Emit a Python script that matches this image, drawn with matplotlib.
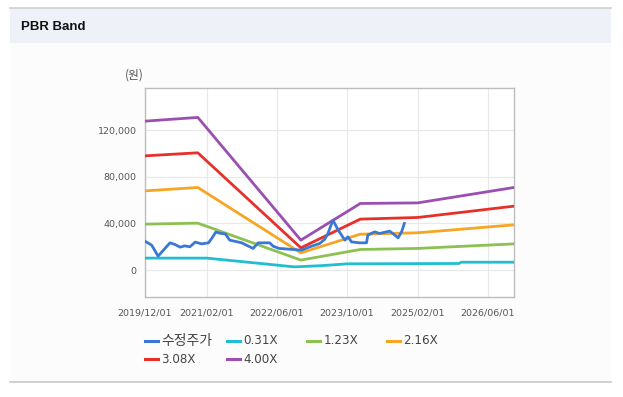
import matplotlib
matplotlib.use("Agg")
import matplotlib.pyplot as plt
from matplotlib.patches import Rectangle
from matplotlib.lines import Line2D
import pandas as pd

# ---------------- data ----------------
price_dates = ["2019-12-01", "2020-01-16", "2020-03-01", "2020-05-22", "2020-06-25",
               "2020-08-01", "2020-09-01", "2020-10-07", "2020-11-13", "2020-12-28",
               "2021-02-13", "2021-03-07", "2021-04-04", "2021-05-13", "2021-06-10",
               "2021-07-10", "2021-10-01", "2021-12-19", "2022-01-24", "2022-04-13",
               "2022-05-07", "2022-06-16", "2022-09-22", "2022-11-19", "2023-01-16",
               "2023-03-25", "2023-04-28", "2023-05-22", "2023-06-25", "2023-08-01",
               "2023-09-16", "2023-10-07", "2023-11-01", "2023-12-28", "2024-02-13",
               "2024-02-22", "2024-04-10", "2024-05-13", "2024-07-22", "2024-08-13",
               "2024-09-19", "2024-10-13", "2024-11-01"]
price_values = [24800, 21400, 12000, 23400, 22000,
                19700, 20800, 20000, 24000, 22500,
                23400, 27100, 32500, 31400, 31000,
                25700, 23400, 18600, 23400, 23400,
                20500, 18600, 17700, 17100, 20000,
                22800, 26300, 31400, 42800, 34300,
                25700, 28500, 24200, 23400, 23400,
                30000, 32800, 31400, 33400, 31400,
                27700, 32800, 40000]

band_dates = ["2019-12-01", "2020-12-01", "2022-11-15", "2024-01-01", "2025-02-01", "2026-12-01"]
band_031_dates = ["2019-12-01", "2021-02-01", "2022-10-01", "2023-04-01", "2023-10-01",
                  "2025-11-15", "2025-12-01", "2026-12-01"]
band_031 = [10300, 10300, 2800, 3800, 5400, 5700, 6800, 6800]
band_123 = [39400, 40250, 8600, 17700, 18600, 22500]
band_216 = [67900, 70800, 14800, 30800, 32000, 38800]
band_308 = [97900, 100500, 19100, 43700, 45100, 54800]
band_400 = [127600, 130800, 25700, 57100, 57600, 70800]

series_labels = ["수정주가", "0.31X", "1.23X", "2.16X", "3.08X", "4.00X"]
colors = ["#3a78d6", "#1fbfd0", "#8cc152", "#f6a623", "#e8302a", "#9b4fb0"]

y_ticks = [0, 40000, 80000, 120000]
x_ticks = ["2019-12-01", "2021-02-01", "2022-06-01", "2023-10-01", "2025-02-01", "2026-06-01"]

# ---------------- figure ----------------
W, H = 623, 397
fig = plt.figure(figsize=(W / 100, H / 100), dpi=100)
fig.patch.set_facecolor("white")

# panel background & header
fig.patches.append(Rectangle((10 / W, (H - 382) / H), 601 / W, 339 / H,
                             transform=fig.transFigure, facecolor="#fcfcfd",
                             edgecolor="none", zorder=-5))
fig.patches.append(Rectangle((10 / W, (H - 43) / H), 601 / W, 35 / H,
                             transform=fig.transFigure, facecolor="#eef2f8",
                             edgecolor="none", zorder=-4))
fig.lines.append(Line2D([10 / W, 611 / W], [(H - 8) / H] * 2, transform=fig.transFigure,
                        color="#cfcfcf", lw=1.2, zorder=-3))
fig.lines.append(Line2D([10 / W, 611 / W], [(H - 382) / H] * 2, transform=fig.transFigure,
                        color="#c8c8c8", lw=1.2, zorder=-3))
fig.text(21 / W, 1 - 27 / H, "PBR Band", fontsize=9.5, fontweight="bold",
         family=["Liberation Sans", "DejaVu Sans"], va="center", ha="left", color="#111111")

# axes: left 145, right 514, top 88, bottom 297
ax = fig.add_axes([145 / W, 1 - 297 / H, (514 - 145) / W, (297 - 88) / H])
ax.set_facecolor("white")
ax.set_zorder(2)

pd_price = pd.to_datetime(price_dates)
pd_band = pd.to_datetime(band_dates)
pd_b031 = pd.to_datetime(band_031_dates)

lw = 2.0
ax.plot(pd_b031, band_031, color=colors[1], lw=lw, zorder=3)
ax.plot(pd_band, band_123, color=colors[2], lw=lw, zorder=3)
ax.plot(pd_band, band_216, color=colors[3], lw=lw, zorder=3)
ax.plot(pd_band, band_308, color=colors[4], lw=lw, zorder=3)
ax.plot(pd_band, band_400, color=colors[5], lw=lw, zorder=3)
ax.plot(pd_price, price_values, color=colors[0], lw=lw, zorder=4)

ax.set_xlim(pd.Timestamp("2019-12-01"), pd.Timestamp("2026-12-01"))
ax.set_ylim(-23000, 156000)

ax.set_yticks(y_ticks)
ax.set_yticklabels([f"{v:,}" for v in y_ticks])
ax.set_xticks(pd.to_datetime(x_ticks))
ax.set_xticklabels([d.replace("-", "/") for d in x_ticks])

ax.grid(True, color="#e8e8e8", lw=0.8, zorder=0)
ax.set_axisbelow(True)
for s in ax.spines.values():
    s.set_color("#bdbdbd")
    s.set_linewidth(1.0)
ax.tick_params(axis="both", length=0, colors="#555555", labelsize=6.8, pad=6)
ax.tick_params(axis="x", pad=8)

fig.text(134 / W, 1 - 75 / H, "(원)", fontsize=8.5, color="#555555",
         family=["Noto Sans CJK KR", "DejaVu Sans"], ha="center", va="center")

# legend (manual placement)
leg_pos = [(145, 340.7), (226.7, 340.7), (306.7, 340.7), (387, 340.7),
           (145, 359.3), (226.7, 359.3)]
leg_sizes = [10.0, 8.6, 8.6, 8.6, 8.6, 8.6]
for (lx, ly), lab, c, fs in zip(leg_pos, series_labels, colors, leg_sizes):
    fig.lines.append(Line2D([lx / W, (lx + 13) / W], [1 - ly / H] * 2,
                            transform=fig.transFigure, color=c, lw=2.2))
    fig.text((lx + 16.5) / W, 1 - ly / H, lab, fontsize=fs, color="#444444",
             family=["DejaVu Sans", "Noto Sans CJK KR"], ha="left", va="center")

fig.savefig("out.png", dpi=100)
